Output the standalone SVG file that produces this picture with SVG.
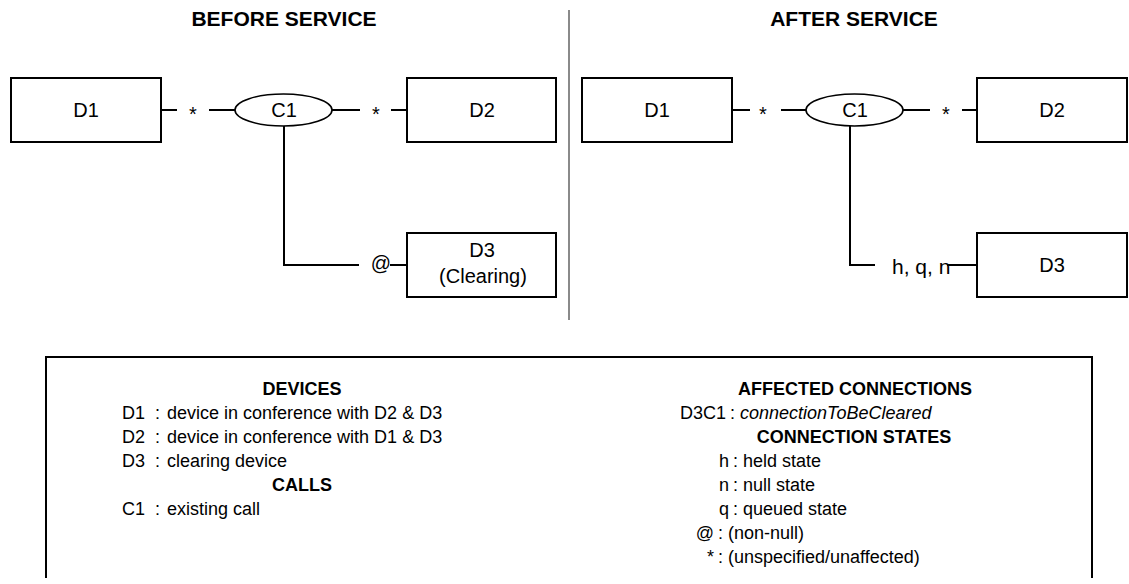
<svg xmlns="http://www.w3.org/2000/svg" width="1129" height="584" viewBox="0 0 1129 584">
<style>
text{font-family:"Liberation Sans",Arial,sans-serif;fill:#000}
.box{fill:#fff;stroke:#000;stroke-width:2}
.ell{fill:#fff;stroke:#000;stroke-width:1.6}
.ln{fill:none;stroke:#000;stroke-width:2}
.lbl{font-size:20px;text-anchor:middle}
.title{font-size:21px;font-weight:bold;text-anchor:middle}
.lg{font-size:18px}
.lh{font-size:18px;font-weight:bold;text-anchor:middle}
.end{text-anchor:end}
</style>
<rect width="1129" height="584" fill="#fff"/>
<text class="title" x="284" y="26">BEFORE SERVICE</text>
<text class="title" x="854" y="26">AFTER SERVICE</text>
<line x1="569" y1="10" x2="569" y2="320" stroke="#8a8a8a" stroke-width="2"/>
<g id="connectors">
<path class="ln" d="M161 110H177M209 110H235M332 110H360M391 110H407M284 126V265H359M390 265H407"/>
<path class="ln" d="M732 110H750M781 110H806M903 110H930M962 110H977M850 126V265H875M947 265H977"/>
<text class="lbl" x="193" y="121">*</text>
<text class="lbl" x="376" y="121">*</text>
<text class="lbl" x="381" y="270">@</text>
<text class="lbl" x="763" y="121">*</text>
<text class="lbl" x="946" y="121">*</text>
<text class="lbl" x="892" y="274" style="text-anchor:start;font-size:21px">h, q, n</text>
</g>
<g id="before-d1"><rect class="box" x="11" y="78" width="150" height="64"/><text class="lbl" x="86" y="117">D1</text></g>
<g id="before-c1"><ellipse class="ell" cx="283.5" cy="110" rx="48.5" ry="16"/><text class="lbl" x="284" y="117">C1</text></g>
<g id="before-d2"><rect class="box" x="407" y="78" width="149" height="64"/><text class="lbl" x="482" y="117">D2</text></g>
<g id="before-d3"><rect class="box" x="407" y="233" width="149" height="64"/><text class="lbl" x="482" y="257">D3</text><text class="lbl" x="483" y="283">(Clearing)</text></g>
<g id="after-d1"><rect class="box" x="582" y="78" width="150" height="64"/><text class="lbl" x="657" y="117">D1</text></g>
<g id="after-c1"><ellipse class="ell" cx="854.5" cy="110" rx="48.5" ry="16"/><text class="lbl" x="855" y="117">C1</text></g>
<g id="after-d2"><rect class="box" x="977" y="78" width="150" height="64"/><text class="lbl" x="1052" y="117">D2</text></g>
<g id="after-d3"><rect class="box" x="977" y="233" width="150" height="64"/><text class="lbl" x="1052" y="272">D3</text></g>
<g id="legend">
<path class="ln" d="M46 578V357H1092V578"/>
<text class="lh" x="302" y="395">DEVICES</text>
<text class="lg" x="122" y="419">D1</text><text class="lg" x="155" y="419">:</text><text class="lg" x="167" y="419">device in conference with D2 &amp; D3</text>
<text class="lg" x="122" y="443">D2</text><text class="lg" x="155" y="443">:</text><text class="lg" x="167" y="443">device in conference with D1 &amp; D3</text>
<text class="lg" x="122" y="467">D3</text><text class="lg" x="155" y="467">:</text><text class="lg" x="167" y="467">clearing device</text>
<text class="lh" x="302" y="491">CALLS</text>
<text class="lg" x="122" y="515">C1</text><text class="lg" x="155" y="515">:</text><text class="lg" x="167" y="515">existing call</text>
<text class="lh" x="855" y="395">AFFECTED CONNECTIONS</text>
<text class="lg end" x="726" y="419">D3C1</text><text class="lg" x="730" y="419">:</text><text class="lg" x="740" y="419" font-style="italic">connectionToBeCleared</text>
<text class="lh" x="854" y="443">CONNECTION STATES</text>
<text class="lg end" x="729" y="467">h</text><text class="lg" x="733" y="467">:</text><text class="lg" x="743" y="467">held state</text>
<text class="lg end" x="729" y="491">n</text><text class="lg" x="733" y="491">:</text><text class="lg" x="743" y="491">null state</text>
<text class="lg end" x="729" y="515">q</text><text class="lg" x="733" y="515">:</text><text class="lg" x="743" y="515">queued state</text>
<text class="lg end" x="714" y="539">@</text><text class="lg" x="718" y="539">:</text><text class="lg" x="728" y="539">(non-null)</text>
<text class="lg end" x="714" y="563">*</text><text class="lg" x="718" y="563">:</text><text class="lg" x="728" y="563">(unspecified/unaffected)</text>
</g>
</svg>
